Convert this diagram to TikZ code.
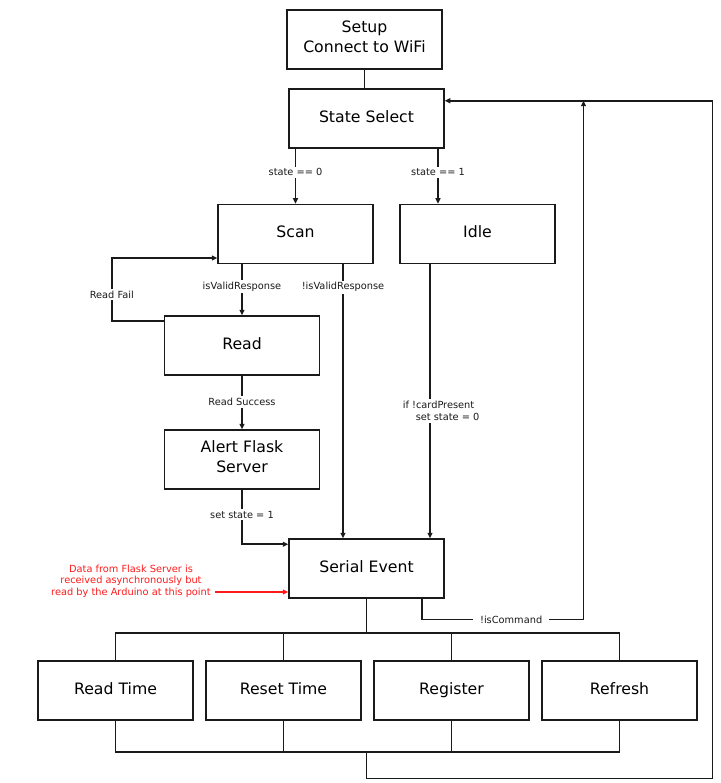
\documentclass[tikz,border=0pt]{standalone}
\usepackage{fontspec}
\setmainfont{DejaVu Sans}
\usetikzlibrary{arrows.meta, calc}

\begin{document}
\begin{tikzpicture}[x=1pt, y=-1pt]

% ---------------------------------------------------------------- colours
\definecolor{ink}{HTML}{1A1A1A}     % boxes and connectors
\definecolor{notered}{HTML}{FF1A1A} % the side note

% ---------------------------------------------------------------- styles
\tikzset{
    box/.style={draw=ink, line width=1.5pt, minimum width=155pt,
                minimum height=59pt, align=center,
                font=\fontsize{15.7}{19.5}\selectfont,
                execute at begin node=\strut, execute at end node=\strut},
    lbl/.style={fill=white, inner xsep=2pt, inner ysep=2pt, text=ink,
                font=\fontsize{9.8}{12}\selectfont},
    link/.style={draw=ink, line width=1.6pt},
    arr/.style={link, -{Triangle[length=5.5pt, width=5pt]}},
    note/.style={text=notered, align=center, inner sep=1pt,
                 font=\fontsize{9.8}{11.5}\selectfont},
    redarr/.style={draw=notered, line width=1.5pt,
                   -{Triangle[length=5.5pt, width=5pt]}},
}

\useasboundingbox (0,0) rectangle (720,783);

% ================================================================
% Everything is placed in pixel units of the 720 x 783 sheet,
% y running downwards.
% ================================================================

% ----------------------------------------------------------------------
% the boxes
% ----------------------------------------------------------------------
\node[box] (setup)  at (364.5, 39.5)  {Setup\\Connect to WiFi};
\node[box] (select) at (366.5, 118.5) {State Select};
\node[box] (scan)   at (295.5, 234)   {Scan};
\node[box] (idle)   at (477.5, 234)   {Idle};
\node[box] (read)   at (242, 345.5)   {Read};
\node[box] (alert)  at (242, 459.5)   {Alert Flask\\Server};
\node[box] (serial) at (366.5, 568.5) {Serial Event};

\node[box] (readtime)  at (115.5, 690.5) {Read Time};
\node[box] (resettime) at (283.5, 690.5) {Reset Time};
\node[box] (register)  at (451.5, 690.5) {Register};
\node[box] (refresh)   at (619.5, 690.5) {Refresh};

% free corners of the long return loop
\coordinate (bus)    at ($(serial.south)+(0,34.5)$);
\coordinate (lowbus) at ($(serial.south)+(0,153.5)$);
\coordinate (rtn)    at (712.5, 778.5);
\coordinate (cmd)    at (583.5, 619.5);
\coordinate (back)   at ([yshift=-12.5]select.north east);

% ----------------------------------------------------------------------
% top part
% ----------------------------------------------------------------------
\draw[link] (setup.south) -- (setup.south |- select.north);

\draw[arr] (select.south -| scan.north)
    -- node[lbl, pos=0.43] {state == 0} (scan.north);
\draw[arr] ([xshift=71.5]select.south)
    -- node[lbl, pos=0.43] {state == 1} ([xshift=71.5]select.south |- idle.north);

% scan: valid goes to read, invalid straight down
\draw[arr] (scan.south -| read.north)
    -- node[lbl, pos=0.44] {isValidResponse} (read.north);
\draw[arr] ([xshift=47.5]scan.south)
    -- node[lbl, pos=0.084] {!isValidResponse}
    ([xshift=47.5]scan.south |- serial.north);

% read fails back into scan
\draw[arr] ([yshift=-6]read.north west) -- ++(-52,0)
    |- node[lbl, pos=0.21] {Read Fail} ([yshift=-24]scan.west);

\draw[arr] (read) -- node[lbl, pos=0.49] {Read Success} (alert);
\draw[arr] (alert.south)
    |- node[lbl, pos=0.23] {set state = 1} ([yshift=-6]serial.north west);

% idle drops to the serial event
\draw[arr] ([xshift=-47.5]idle.south)
    -- node[lbl, pos=0.535, anchor=west, xshift=-30, align=left]
       {if !cardPresent\\\hspace*{13pt}set state = 0}
    ([xshift=-47.5]idle.south |- serial.north);

% the note in red
\node[note] (note) at (131, 581)
    {Data from Flask Server is\\received asynchronously but\\read by the Arduino at this point};
\draw[redarr] ([yshift=-11, xshift=3]note.east)
    -- ([yshift=-11]note.east -| serial.west);

% ----------------------------------------------------------------------
% commands fan out, and join again
% ----------------------------------------------------------------------
\draw[link] (serial.south) -- (bus);
\draw[link] (readtime.north) |- (bus) -| (refresh.north);
\draw[link] (resettime.north) -- (resettime.north |- bus);
\draw[link] (register.north) -- (register.north |- bus);

\draw[link] (readtime.south) |- (lowbus) -| (refresh.south);
\draw[link] (resettime.south) -- (resettime.south |- lowbus);
\draw[link] (register.south) -- (register.south |- lowbus);

% back to the state select
\draw[arr] (lowbus) |- (rtn) |- (back);
\draw[arr] ([xshift=55.5]serial.south)
    |- node[lbl, pos=0.776, inner xsep=7pt] {!isCommand} (cmd)
    -- (cmd |- back);

\end{tikzpicture}
\end{document}
